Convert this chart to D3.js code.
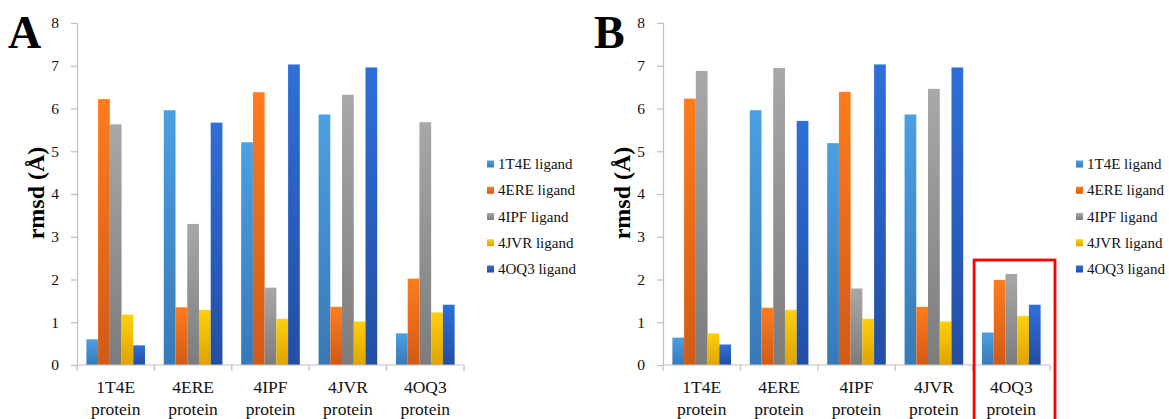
<!DOCTYPE html>
<html>
<head>
<meta charset="utf-8">
<script src="https://d3js.org/d3.v7.min.js"></script>
<style>
  html, body { margin: 0; padding: 0; background: #fff; }
  svg { display: block; }
</style>
</head>
<body>
<svg id="chart" width="1169" height="419"></svg>
<script>
// ---- data ----
const categories = ["1T4E protein", "4ERE protein", "4IPF protein", "4JVR protein", "4OQ3 protein"];
const seriesNames = ["1T4E ligand", "4ERE ligand", "4IPF ligand", "4JVR ligand", "4OQ3 ligand"];
const yTicks = [0, 1, 2, 3, 4, 5, 6, 7, 8];

// Panel A values (per ligand series, across proteins)
const a_1T4E = [0.60, 5.96, 5.21, 5.86, 0.74];
const a_4ERE = [6.22, 1.35, 6.38, 1.36, 2.02];
const a_4IPF = [5.63, 3.30, 1.81, 6.32, 5.68];
const a_4JVR = [1.18, 1.29, 1.08, 1.02, 1.23];
const a_4OQ3 = [0.46, 5.67, 7.03, 6.96, 1.41];

// Panel B values
const b_1T4E = [0.64, 5.96, 5.19, 5.86, 0.76];
const b_4ERE = [6.23, 1.34, 6.39, 1.36, 1.99];
const b_4IPF = [6.88, 6.95, 1.79, 6.46, 2.13];
const b_4JVR = [0.74, 1.29, 1.08, 1.02, 1.15];
const b_4OQ3 = [0.48, 5.71, 7.03, 6.96, 1.41];

const colorsTop = ["#4ba0e2", "#ff7c1d", "#a8a8a8", "#ffd00c", "#2f6fd9"];
const colorsBot = ["#3879b8", "#d25a16", "#7c7c7c", "#dea300", "#234ea3"];

const SERIF = '"Liberation Serif", "Times New Roman", serif';

const svg = d3.select("#chart");
const defs = svg.append("defs");
seriesNames.forEach((s, i) => {
  const g = defs.append("linearGradient").attr("id", "grad" + i)
    .attr("x1", 0).attr("y1", 0).attr("x2", 0).attr("y2", 1);
  g.append("stop").attr("offset", "0%").attr("stop-color", colorsTop[i]);
  g.append("stop").attr("offset", "100%").attr("stop-color", colorsBot[i]);
});

function drawPanel(ox, seriesVals, label, legendX, highlightLast) {
  const x0 = ox + 77, x1 = ox + 464;
  const y = d3.scaleLinear().domain([0, 8]).range([365, 23]);
  const x = d3.scaleBand().domain(categories).range([x0, x1]).padding(0);
  const xs = d3.scaleBand().domain(seriesNames).range([0, x.bandwidth()])
    .paddingInner(0).paddingOuter(0.8);

  const g = svg.append("g");

  // panel letter
  g.append("text").attr("x", ox + 8).attr("y", 48)
    .style("font-family", SERIF).style("font-size", "46px").style("font-weight", "bold")
    .style("fill", "#000").text(label);

  // y axis
  const yAxis = d3.axisLeft(y).tickValues(yTicks).tickSize(6).tickPadding(12).tickFormat(d3.format("d"));
  const ya = g.append("g").attr("transform", `translate(${x0},0)`).call(yAxis);
  ya.select(".domain").attr("stroke", "#bfbfbf").attr("stroke-width", 1.2);
  ya.selectAll(".tick line").attr("stroke", "#bfbfbf").attr("stroke-width", 1.2);
  ya.selectAll(".tick text")
    .style("font-family", SERIF).style("font-size", "15.5px").style("fill", "#111");

  // y label
  g.append("text").attr("transform", `translate(${ox + 44},193) rotate(-90)`)
    .attr("text-anchor", "middle")
    .style("font-family", SERIF).style("font-size", "24px").style("font-weight", "bold")
    .style("fill", "#000").text("rmsd (Å)");

  // bars
  seriesNames.forEach((s, si) => {
    g.append("g").selectAll("rect").data(seriesVals[si]).join("rect")
      .attr("x", (d, ci) => x(categories[ci]) + xs(s))
      .attr("y", d => y(d))
      .attr("width", xs.bandwidth())
      .attr("height", d => y(0) - y(d))
      .attr("fill", `url(#grad${si})`);
  });

  // x axis
  const xa = g.append("g").attr("transform", `translate(0,${y(0)})`);
  xa.append("line").attr("x1", x0).attr("x2", x1).attr("y1", 0).attr("y2", 0)
    .attr("stroke", "#bfbfbf").attr("stroke-width", 1.2);
  const bounds = categories.map(c => x(c)).concat([x1]);
  xa.selectAll("line.tk").data(bounds).join("line").attr("class", "tk")
    .attr("x1", d => d).attr("x2", d => d).attr("y1", 0).attr("y2", 6)
    .attr("stroke", "#bfbfbf").attr("stroke-width", 1.2);
  categories.forEach(c => {
    const parts = c.split(" ");
    const t = xa.append("text").attr("text-anchor", "middle")
      .style("font-family", SERIF).style("font-size", "17.5px").style("fill", "#111");
    t.append("tspan").attr("x", x(c) + x.bandwidth() / 2).attr("y", 28).text(parts[0]);
    t.append("tspan").attr("x", x(c) + x.bandwidth() / 2).attr("y", 50).text(parts[1]);
  });

  // legend
  const lg = g.append("g");
  seriesNames.forEach((s, i) => {
    const cy = 164 + i * 26.25;
    lg.append("rect").attr("x", legendX).attr("y", cy - 3.5).attr("width", 7).attr("height", 7)
      .attr("fill", `url(#grad${i})`);
    lg.append("text").attr("x", legendX + 11).attr("y", cy + 5)
      .style("font-family", SERIF).style("font-size", "15px").style("fill", "#111").text(s);
  });

  if (highlightLast) {
    const c = categories[categories.length - 1];
    g.append("rect").attr("x", x(c) + 1.5).attr("y", 260)
      .attr("width", x.bandwidth() + 3.5).attr("height", 170)
      .attr("fill", "none").attr("stroke", "#ff0000").attr("stroke-width", 2.8);
  }
}

drawPanel(0, [a_1T4E, a_4ERE, a_4IPF, a_4JVR, a_4OQ3], "A", 487, false);
drawPanel(586, [b_1T4E, b_4ERE, b_4IPF, b_4JVR, b_4OQ3], "B", 1076, true);
</script>
</body>
</html>
